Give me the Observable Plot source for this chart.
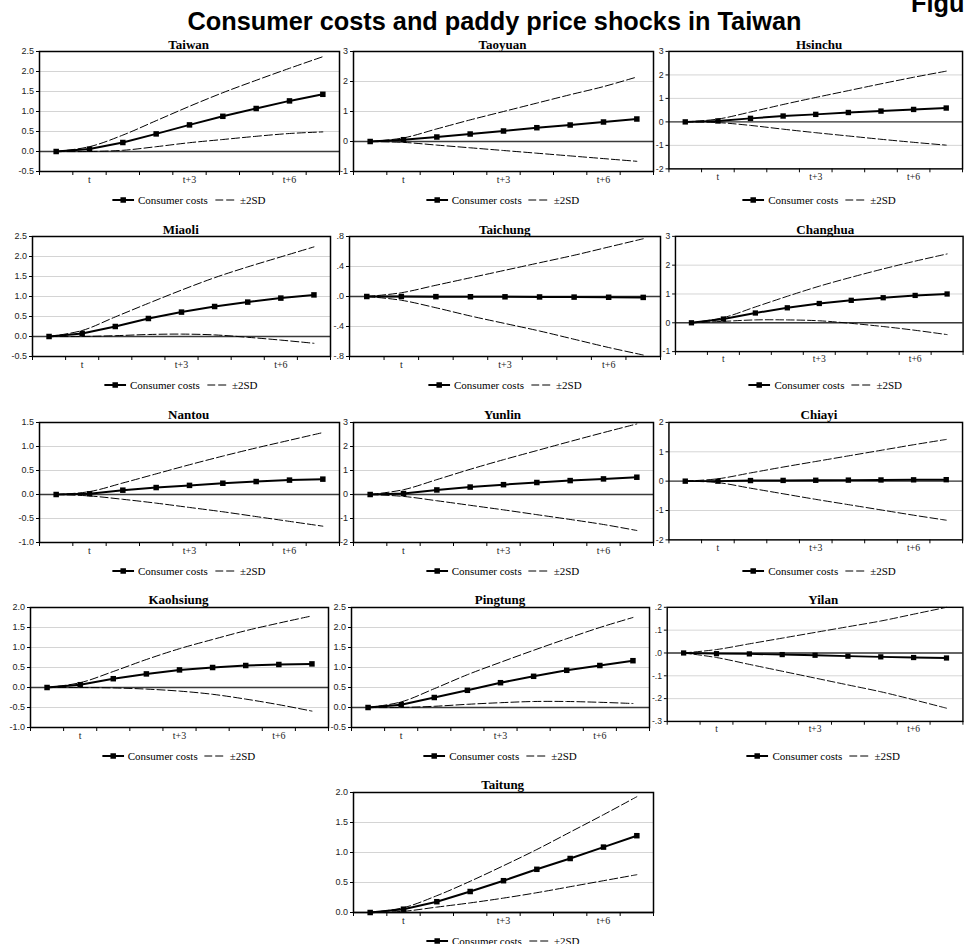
<!DOCTYPE html>
<html><head><meta charset="utf-8">
<script src="https://cdn.jsdelivr.net/npm/d3@7"></script>
<script src="https://cdn.jsdelivr.net/npm/@observablehq/plot@0.6"></script>
<style>
html,body{margin:0;padding:0;background:#fff;overflow:hidden;}
#root{position:relative;width:965px;height:944px;overflow:hidden;background:#fff;}
.title{position:absolute;font-family:"Liberation Sans",Arial,sans-serif;font-weight:bold;font-size:25.3px;white-space:nowrap;line-height:1;color:#000;}
.ptitle{position:absolute;font-family:"Liberation Serif","Times New Roman",serif;font-weight:bold;font-size:13px;transform:translateX(-50%);white-space:nowrap;line-height:1;color:#000;}
.legend{position:absolute;transform:translateX(-50%);display:flex;align-items:center;font-family:"Liberation Serif","Times New Roman",serif;font-size:11px;white-space:nowrap;height:14px;color:#000;}
.panel{position:absolute;}
</style></head><body><div id="root"></div>
<script>
// ---- data ----
const periods = ["t-1","t","t+1","t+2","t+3","t+4","t+5","t+6","t+7"];
const labeledPeriods = ["t","t+3","t+6"];
const seriesNames = ["Consumer costs","\u00b12SD"];

const taiwanCC = [0,0.06,0.225,0.44,0.665,0.88,1.075,1.265,1.43];
const taiwanHi = [0,0.12,0.41,0.77,1.13,1.47,1.78,2.08,2.37];
const taiwanLo = [0,0.0,0.03,0.12,0.22,0.3,0.38,0.45,0.49];

const taoyuanCC = [0,0.06,0.15,0.25,0.35,0.46,0.55,0.65,0.75];
const taoyuanHi = [0,0.12,0.42,0.72,1.0,1.28,1.56,1.83,2.15];
const taoyuanLo = [0,-0.03,-0.12,-0.21,-0.3,-0.39,-0.48,-0.57,-0.66];

const hsinchuCC = [0,0.04,0.15,0.25,0.32,0.4,0.46,0.53,0.59];
const hsinchuHi = [0,0.12,0.42,0.74,1.04,1.33,1.62,1.9,2.16];
const hsinchuLo = [0,-0.03,-0.15,-0.31,-0.46,-0.6,-0.74,-0.87,-0.99];

const miaoliCC = [0,0.075,0.25,0.45,0.61,0.75,0.86,0.96,1.04];
const miaoliHi = [0,0.15,0.49,0.83,1.16,1.47,1.74,1.99,2.24];
const miaoliLo = [0,0.0,0.02,0.05,0.06,0.04,-0.02,-0.09,-0.17];

const taichungCC = [0,0,-0.002,-0.003,-0.004,-0.006,-0.008,-0.01,-0.012];
const taichungHi = [0,0.05,0.15,0.25,0.35,0.45,0.55,0.66,0.77];
const taichungLo = [0,-0.05,-0.15,-0.26,-0.36,-0.46,-0.57,-0.68,-0.78];

const changhuaCC = [0,0.13,0.34,0.52,0.67,0.78,0.87,0.95,1.0];
const changhuaHi = [0,0.18,0.55,0.92,1.27,1.58,1.87,2.14,2.39];
const changhuaLo = [0,0.05,0.1,0.1,0.07,-0.02,-0.13,-0.26,-0.41];

const nantouCC = [0,0.015,0.09,0.145,0.19,0.235,0.27,0.3,0.32];
const nantouHi = [0,0.06,0.24,0.43,0.62,0.8,0.97,1.13,1.29];
const nantouLo = [0,-0.03,-0.1,-0.18,-0.27,-0.36,-0.46,-0.56,-0.66];

const yunlinCC = [0,0.04,0.19,0.31,0.41,0.5,0.58,0.65,0.72];
const yunlinHi = [0,0.2,0.62,1.05,1.45,1.83,2.21,2.58,2.94];
const yunlinLo = [0,-0.08,-0.26,-0.45,-0.64,-0.84,-1.04,-1.25,-1.5];

const chiayiCC = [0,0.0,0.02,0.025,0.03,0.035,0.04,0.045,0.05];
const chiayiHi = [0,0.08,0.28,0.48,0.67,0.86,1.05,1.24,1.42];
const chiayiLo = [0,-0.05,-0.24,-0.43,-0.62,-0.8,-0.98,-1.16,-1.33];

const kaohsiungCC = [0,0.07,0.22,0.34,0.44,0.5,0.55,0.575,0.59];
const kaohsiungHi = [0,0.12,0.4,0.7,0.97,1.2,1.42,1.61,1.79];
const kaohsiungLo = [0,0.0,-0.01,-0.04,-0.09,-0.17,-0.29,-0.43,-0.59];

const pingtungCC = [0,0.07,0.25,0.43,0.62,0.78,0.93,1.05,1.17];
const pingtungHi = [0,0.14,0.47,0.82,1.13,1.43,1.72,2.0,2.25];
const pingtungLo = [0,0.0,0.03,0.08,0.12,0.15,0.15,0.13,0.1];

const yilanCC = [0,-0.003,-0.004,-0.007,-0.01,-0.014,-0.017,-0.02,-0.022];
const yilanHi = [0,0.015,0.04,0.065,0.09,0.115,0.14,0.17,0.2];
const yilanLo = [0,-0.02,-0.05,-0.08,-0.11,-0.14,-0.17,-0.205,-0.242];

const taitungCC = [0,0.055,0.18,0.35,0.53,0.72,0.9,1.09,1.28];
const taitungHi = [0,0.08,0.28,0.52,0.78,1.05,1.34,1.63,1.93];
const taitungLo = [0,0.02,0.09,0.16,0.24,0.33,0.43,0.53,0.63];

// y tick values and labels
const ticksHalf25 = [-0.5,0,0.5,1,1.5,2,2.5];
const labelsHalf25 = ["-0.5","0.0","0.5","1.0","1.5","2.0","2.5"];
const ticksM1to3 = [-1,0,1,2,3];
const labelsM1to3 = ["-1","0","1","2","3"];
const ticksM2to3 = [-2,-1,0,1,2,3];
const labelsM2to3 = ["-2","-1","0","1","2","3"];
const ticksM2to2 = [-2,-1,0,1,2];
const labelsM2to2 = ["-2","-1","0","1","2"];
const ticksTaichung = [-0.8,-0.4,0,0.4,0.8];
const labelsTaichung = ["-.8","-.4",".0",".4",".8"];
const ticksNantou = [-1,-0.5,0,0.5,1,1.5];
const labelsNantou = ["-1.0","-0.5","0.0","0.5","1.0","1.5"];
const ticksKaohsiung = [-1,-0.5,0,0.5,1,1.5,2];
const labelsKaohsiung = ["-1.0","-0.5","0.0","0.5","1.0","1.5","2.0"];
const ticksYilan = [-0.3,-0.2,-0.1,0,0.1,0.2];
const labelsYilan = ["-.3","-.2","-.1",".0",".1",".2"];
const ticksTaitung = [0,0.5,1,1.5,2];
const labelsTaitung = ["0.0","0.5","1.0","1.5","2.0"];

const chartTitle = "Consumer costs and paddy price shocks in Taiwan";
const figureLabel = "Figure";

// ---- layout (pixel positions of each plot area) ----
const panels = [
  ["Taiwan",   taiwanCC,   taiwanHi,   taiwanLo,   ticksHalf25,    labelsHalf25,    38.7, 300, 51],
  ["Taoyuan",  taoyuanCC,  taoyuanHi,  taoyuanLo,  ticksM1to3,     labelsM1to3,     352.5,300, 51],
  ["Hsinchu",  hsinchuCC,  hsinchuHi,  hsinchuLo,  ticksM2to3,     labelsM2to3,     669,  300, 51],
  ["Miaoli",   miaoliCC,   miaoliHi,   miaoliLo,   ticksHalf25,    labelsHalf25,    31.7, 298, 236.3],
  ["Taichung", taichungCC, taichungHi, taichungLo, ticksTaichung,  labelsTaichung,  349.3,311, 236.3],
  ["Changhua", changhuaCC, changhuaHi, changhuaLo, ticksM1to3,     labelsM1to3,     675.5,299.5,236.3],
  ["Nantou",   nantouCC,   nantouHi,   nantouLo,   ticksNantou,    labelsNantou,    38.7, 300, 421.5],
  ["Yunlin",   yunlinCC,   yunlinHi,   yunlinLo,   ticksM2to3,     labelsM2to3,     352.5,300, 421.5],
  ["Chiayi",   chiayiCC,   chiayiHi,   chiayiLo,   ticksM2to2,     labelsM2to2,     669,  300, 421.5],
  ["Kaohsiung",kaohsiungCC,kaohsiungHi,kaohsiungLo,ticksKaohsiung, labelsKaohsiung, 29.5, 298, 606.7],
  ["Pingtung", pingtungCC, pingtungHi, pingtungLo, ticksHalf25,    labelsHalf25,    351,  298, 606.7],
  ["Yilan",    yilanCC,    yilanHi,    yilanLo,    ticksYilan,     labelsYilan,     667.7,311, 606.7],
  ["Taitung",  taitungCC,  taitungHi,  taitungLo,  ticksTaitung,   labelsTaitung,   352.7,300, 791.7]
];

const root = document.getElementById("root");
const SANS = '"Liberation Sans", Arial, sans-serif';
const SERIF = '"Liberation Serif", "Times New Roman", serif';

function addDiv(cls, text, styles) {
  const d = document.createElement("div");
  d.className = cls;
  if (text != null) d.textContent = text;
  Object.assign(d.style, styles);
  root.appendChild(d);
  return d;
}

addDiv("title", chartTitle, {left: "494.5px", top: "9px", transform: "translateX(-50%)"});
addDiv("title", figureLabel, {left: "911px", top: "-9px"});

const PH = 120;
const mL = 26, mR = 3, mT = 3, mB = 22;

function legendItem(kind) {
  const ns = "http://www.w3.org/2000/svg";
  const s = document.createElementNS(ns, "svg");
  s.setAttribute("width", 22); s.setAttribute("height", 10);
  const l = document.createElementNS(ns, "line");
  l.setAttribute("x1", 0); l.setAttribute("x2", 22); l.setAttribute("y1", 5); l.setAttribute("y2", 5);
  l.setAttribute("stroke", "black");
  if (kind === "cc") {
    l.setAttribute("stroke-width", 2);
    s.appendChild(l);
    const r = document.createElementNS(ns, "rect");
    r.setAttribute("x", 8.25); r.setAttribute("y", 2.25); r.setAttribute("width", 5.5); r.setAttribute("height", 5.5);
    r.setAttribute("fill", "black");
    s.appendChild(r);
  } else {
    l.setAttribute("stroke-width", 1);
    l.setAttribute("stroke-dasharray", "8,3");
    s.appendChild(l);
  }
  return s;
}

for (const [name, cc, hi, lo, yt, yl, left, w, top] of panels) {
  const rows = arr => arr.map((v, i) => ({i, v}));
  const fmt = new Map(yt.map((t, k) => [t, yl[k]]));
  const boundaries = d3.range(periods.length + 1).map(k => k - 0.5);
  const chart = Plot.plot({
    width: w + mL + mR,
    height: PH + mT + mB,
    marginLeft: mL, marginRight: mR, marginTop: mT, marginBottom: mB,
    x: {domain: [-0.5, periods.length - 0.5], axis: null, label: null},
    y: {domain: [yt[0], yt[yt.length - 1]], axis: null, label: null},
    style: {background: "transparent", overflow: "visible"},
    marks: [
      Plot.gridY({ticks: yt.slice(1, -1), stroke: "#d4d4d4", strokeOpacity: 1, strokeWidth: 1}),
      Plot.ruleY([0], {stroke: "#3a3a3a", strokeWidth: 1.4}),
      Plot.line(rows(hi), {x: "i", y: "v", curve: "catmull-rom", stroke: "black", strokeWidth: 1, strokeDasharray: "8,3"}),
      Plot.line(rows(lo), {x: "i", y: "v", curve: "catmull-rom", stroke: "black", strokeWidth: 1, strokeDasharray: "8,3"}),
      Plot.line(rows(cc), {x: "i", y: "v", stroke: "black", strokeWidth: 2}),
      Plot.dot(rows(cc), {x: "i", y: "v", symbol: "square", r: 3.1, fill: "black", stroke: "none"}),
      Plot.axisY({ticks: yt, label: null, tickFormat: d => fmt.get(d), tickSize: 3, tickPadding: 2.5, fontSize: 9, fontFamily: SANS, color: "#222", stroke: "black"}),
      Plot.axisX({ticks: labeledPeriods.map(p => periods.indexOf(p)), label: null, tickFormat: i => periods[i], tickSize: 0, tickPadding: 4, fontSize: 10, fontFamily: SERIF, color: "#222"}),
      Plot.axisX({ticks: boundaries, label: null, tickFormat: () => "", tickSize: 4, stroke: "black"}),
      Plot.frame({stroke: "black", strokeWidth: 1.5})
    ]
  });
  const holder = addDiv("panel", null, {left: (left - mL) + "px", top: (top - mT) + "px"});
  holder.appendChild(chart);

  addDiv("ptitle", name, {left: (left + w / 2) + "px", top: (top - 13.3) + "px"});

  const lg = addDiv("legend", null, {left: (left + w / 2) + "px", top: (top + 142) + "px"});
  lg.appendChild(legendItem("cc"));
  const t1 = document.createElement("span"); t1.textContent = seriesNames[0]; t1.style.marginLeft = "4px"; t1.style.marginRight = "7px";
  lg.appendChild(t1);
  lg.appendChild(legendItem("sd"));
  const t2 = document.createElement("span"); t2.textContent = seriesNames[1]; t2.style.marginLeft = "3px";
  lg.appendChild(t2);
}
</script>
</body></html>
